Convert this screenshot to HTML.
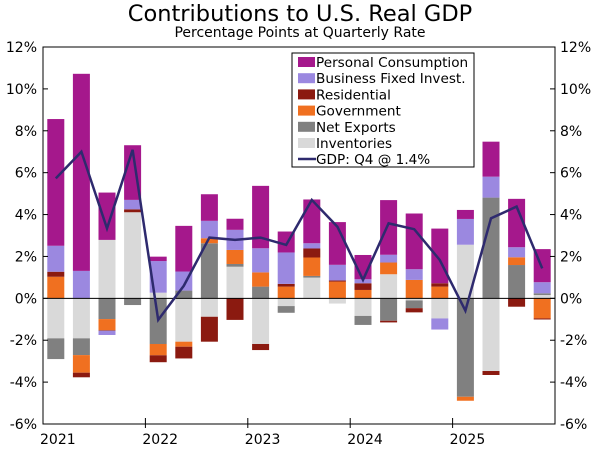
<!DOCTYPE html>
<html><head><meta charset="utf-8"><style>
body{margin:0;background:#fff;}
svg text{font-family:"DejaVu Sans","Liberation Sans",sans-serif;fill:#000;}
</style></head><body>
<svg id="c" width="600" height="448" xmlns="http://www.w3.org/2000/svg">
<text x="300" y="21" text-anchor="middle" font-size="22.5">Contributions to U.S. Real GDP</text>
<text x="300" y="37" text-anchor="middle" font-size="14">Percentage Points at Quarterly Rate</text>
<g id="plot"></g>
</svg>
<script>
const quarters=["2021Q1","2021Q2","2021Q3","2021Q4","2022Q1","2022Q2","2022Q3","2022Q4","2023Q1","2023Q2","2023Q3","2023Q4","2024Q1","2024Q2","2024Q3","2024Q4","2025Q1","2025Q2","2025Q3","2025Q4"];
const inventories=[-1.91,-1.91,2.79,4.11,0.27,-2.07,-0.88,1.51,-2.18,-0.37,0.99,-0.25,-0.84,1.15,-0.1,-0.96,2.56,-3.47,0,0.16];
const netExports=[-0.99,-0.8,-0.99,-0.32,-2.18,0.37,2.63,0.13,0.56,-0.32,0.08,0,-0.43,-1.07,-0.37,0,-4.7,4.81,1.59,0.08];
const government=[1.03,-0.84,-0.53,0,-0.54,-0.24,0.24,0.67,0.68,0.56,0.88,0.8,0.4,0.56,0.88,0.56,-0.19,0,0.37,-0.96];
const residential=[0.24,-0.22,-0.03,0.14,-0.33,-0.56,-1.19,-1.03,-0.29,0.13,0.43,0.05,0.32,-0.08,-0.2,0.16,0,-0.19,-0.4,-0.05];
const businessInv=[1.24,1.31,-0.2,0.45,1.51,0.91,0.83,0.96,1.15,1.5,0.25,0.75,0.19,0.37,0.51,-0.53,1.23,1.0,0.48,0.53];
const consumption=[6.05,9.41,2.26,2.61,0.21,2.18,1.27,0.53,2.98,1.0,2.09,2.04,1.16,2.61,2.66,2.61,0.43,1.67,2.31,1.58];
const gdp=[5.73,7.0,3.34,7.09,-1.03,0.6,2.9,2.79,2.9,2.55,4.7,3.42,0.88,3.58,3.3,1.83,-0.59,3.82,4.38,1.43];
const yTicks=[12,10,8,6,4,2,0,-2,-4,-6];
const years=["2021","2022","2023","2024","2025"];
const seriesNames=["Inventories","Net Exports","Government","Residential","Business Fixed Invest.","Personal Consumption"];
const seriesColors=["#d9d9d9","#808080","#f07020","#8b1a10","#9b88e0","#a5188c"];
const series=[inventories,netExports,government,residential,businessInv,consumption];

const NS="http://www.w3.org/2000/svg";
const L=43,R=555,T=47,B=424,yMin=-6,yMax=12;
const qW=(R-L)/quarters.length;
const y=v=>B-(v-yMin)/(yMax-yMin)*(B-T);
const x=i=>L+qW*(i+0.5);
const g=document.getElementById('plot');
function mk(tag,attrs){const e=document.createElementNS(NS,tag);for(const k in attrs)e.setAttribute(k,attrs[k]);g.appendChild(e);return e;}

quarters.forEach((q,i)=>{
  let pos=0,neg=0;
  series.forEach((s,k)=>{
    const v=s[i];if(!v)return;
    let y0,y1;
    if(v>0){y0=pos;y1=pos+v;pos=y1;}else{y0=neg;y1=neg+v;neg=y1;}
    const r=mk('rect',{x:x(i)-8.5,width:17,y:Math.min(y(y0),y(y1)),height:Math.abs(y(y0)-y(y1)),fill:seriesColors[k]});
    
    
  });
});
const z=mk('line',{x1:L,x2:R,y1:y(0),y2:y(0),stroke:'#000','stroke-width':1});


const gl=mk('polyline',{points:gdp.map((v,i)=>x(i)+','+y(v)).join(' '),fill:'none',stroke:'#2e2a6e','stroke-width':2.5,'stroke-linejoin':'miter'});


const fr=mk('rect',{x:L,y:T,width:R-L,height:B-T,fill:'none',stroke:'#000','stroke-width':1});


yTicks.forEach(t=>{
  mk('line',{x1:L,x2:L+5,y1:y(t),y2:y(t),stroke:'#000'});
  mk('line',{x1:R-5,x2:R,y1:y(t),y2:y(t),stroke:'#000'});
  const a=mk('text',{x:L-6,y:y(t)+5,'text-anchor':'end','font-size':14});a.textContent=t+'%';
  
  
  const b=mk('text',{x:R+5,y:y(t)+5,'text-anchor':'start','font-size':14});b.textContent=t+'%';
  
  
});
years.forEach((yr,j)=>{
  const xx=L+qW*4*j;
  if(j>0)mk('line',{x1:xx,x2:xx,y1:B-6,y2:B+4,stroke:'#000'});
  const t=mk('text',{x:xx-3,y:B+20,'font-size':14});t.textContent=yr;
  
  
});
const lg=mk('rect',{x:292,y:53,width:182,height:114,fill:'#fff',stroke:'#000','stroke-width':1});


const order=[5,4,3,2,1,0];
order.forEach((k,r)=>{
  const yy=62+r*16.2;
  mk('rect',{x:298,y:yy-5,width:17,height:10,fill:seriesColors[k]});
  const t=mk('text',{x:316,y:yy+5,'font-size':13.6});t.textContent=seriesNames[k];
  
  
});
mk('line',{x1:298,x2:316,y1:159,y2:159,stroke:'#2e2a6e','stroke-width':2.5});
const gt=mk('text',{x:316,y:164,'font-size':13.6});gt.textContent="GDP: Q4 @ 1.4%";


</script>
</body></html>
